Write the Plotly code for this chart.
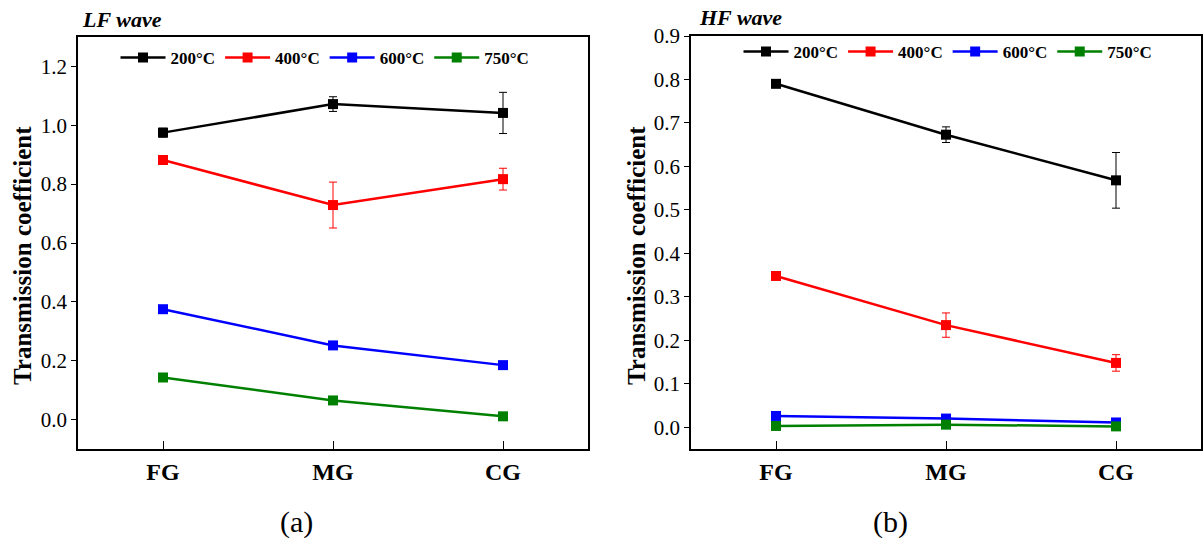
import plotly.graph_objects as go

categories = ["FG", "MG", "CG"]
temps = ["200°C", "400°C", "600°C", "750°C"]
colors = ["#000000", "#FF0000", "#0000FF", "#008000"]

lf_200 = [0.975, 1.072, 1.042]
lf_400 = [0.882, 0.729, 0.817]
lf_600 = [0.375, 0.252, 0.185]
lf_750 = [0.143, 0.065, 0.011]
lf_200_err = [0.015, 0.025, 0.070]
lf_400_err = [0.008, 0.078, 0.037]
lf_600_err = [0.004, 0.004, 0.004]
lf_750_err = [0.003, 0.003, 0.003]

hf_200 = [0.790, 0.673, 0.568]
hf_400 = [0.348, 0.235, 0.148]
hf_600 = [0.026, 0.020, 0.011]
hf_750 = [0.003, 0.006, 0.002]
hf_200_err = [0.005, 0.018, 0.064]
hf_400_err = [0.004, 0.028, 0.019]
hf_600_err = [0.003, 0.003, 0.003]
hf_750_err = [0.002, 0.002, 0.002]

lf_vals = [lf_200, lf_400, lf_600, lf_750]
lf_errs = [lf_200_err, lf_400_err, lf_600_err, lf_750_err]
hf_vals = [hf_200, hf_400, hf_600, hf_750]
hf_errs = [hf_200_err, hf_400_err, hf_600_err, hf_750_err]

FONT = "Liberation Serif"
W, H = 1204, 546

fig = go.Figure()

for panel, (vals, errs, xa, ya, lg) in enumerate([
        (lf_vals, lf_errs, "x", "y", "legend"),
        (hf_vals, hf_errs, "x2", "y2", "legend2")]):
    for t, v, e, c in zip(temps, vals, errs, colors):
        fig.add_trace(go.Scatter(
            x=categories, y=v, name=t, mode="lines+markers",
            xaxis=xa, yaxis=ya, legend=lg,
            line=dict(color=c, width=2.5),
            marker=dict(symbol="square", size=10, color=c),
            error_y=dict(type="data", array=e, visible=True, color=c,
                         thickness=1, width=4),
        ))

def px_x(p):
    return p / W

def px_y(p):
    return 1 - p / H

axis_common = dict(showline=True, mirror=True, linecolor="black", linewidth=1.5,
                   showgrid=False, zeroline=False, ticks="outside", ticklen=5,
                   tickwidth=1.2, tickcolor="black", automargin=False)
xcommon = {**axis_common, "ticks": "inside", "ticklen": 8}

fig.update_layout(
    width=W, height=H,
    margin=dict(l=0, r=0, t=0, b=0, pad=0, autoexpand=False),
    paper_bgcolor="white", plot_bgcolor="white",
    font=dict(family=FONT, color="black"),
    xaxis=dict(domain=[px_x(78), px_x(588)], anchor="y", range=[-0.5, 2.5],
               type="category", **xcommon,
               tickfont=dict(size=24, family=FONT, weight="bold")),
    yaxis=dict(domain=[px_y(449), px_y(37)], anchor="x", range=[-0.1, 1.3],
               dtick=0.2, tick0=0, tickformat=".1f", **axis_common,
               tickfont=dict(size=21, family=FONT)),
    xaxis2=dict(domain=[px_x(691), px_x(1201)], anchor="y2", range=[-0.5, 2.5],
                type="category", **xcommon,
                tickfont=dict(size=24, family=FONT, weight="bold")),
    yaxis2=dict(domain=[px_y(449), px_y(36)], anchor="x2", range=[-0.05, 0.9],
                dtick=0.1, tick0=0, tickformat=".1f", **axis_common,
                tickfont=dict(size=21, family=FONT)),
    legend=dict(orientation="h", x=px_x(325), xanchor="center",
                y=px_y(58), yanchor="middle", bgcolor="rgba(0,0,0,0)",
                font=dict(size=17, family=FONT, weight="bold"),
                itemwidth=45, tracegroupgap=0),
    legend2=dict(orientation="h", x=px_x(948), xanchor="center",
                 y=px_y(52), yanchor="middle", bgcolor="rgba(0,0,0,0)",
                 font=dict(size=17, family=FONT, weight="bold"),
                 itemwidth=45, tracegroupgap=0),
    showlegend=True,
)

for xc in (22, 636):
    fig.add_annotation(text="<b>Transmission coefficient</b>", xref="paper", yref="paper",
                       x=px_x(xc), y=px_y(256), xanchor="center", yanchor="middle",
                       textangle=-90, showarrow=False, font=dict(size=25, family=FONT))

fig.add_annotation(text="<b><i>LF wave</i></b>", xref="paper", yref="paper",
                   x=px_x(80), y=px_y(20), xanchor="left", yanchor="middle",
                   showarrow=False, font=dict(size=22, family=FONT))
fig.add_annotation(text="<b><i>HF wave</i></b>", xref="paper", yref="paper",
                   x=px_x(697), y=px_y(18), xanchor="left", yanchor="middle",
                   showarrow=False, font=dict(size=22, family=FONT))
fig.add_annotation(text="(a)", xref="paper", yref="paper",
                   x=px_x(296), y=px_y(522), xanchor="center", yanchor="middle",
                   showarrow=False, font=dict(size=30, family=FONT))
fig.add_annotation(text="(b)", xref="paper", yref="paper",
                   x=px_x(890), y=px_y(522), xanchor="center", yanchor="middle",
                   showarrow=False, font=dict(size=30, family=FONT))

fig.write_html("out.html", config={"displayModeBar": False},
               post_script="document.body.style.margin='0px';")
